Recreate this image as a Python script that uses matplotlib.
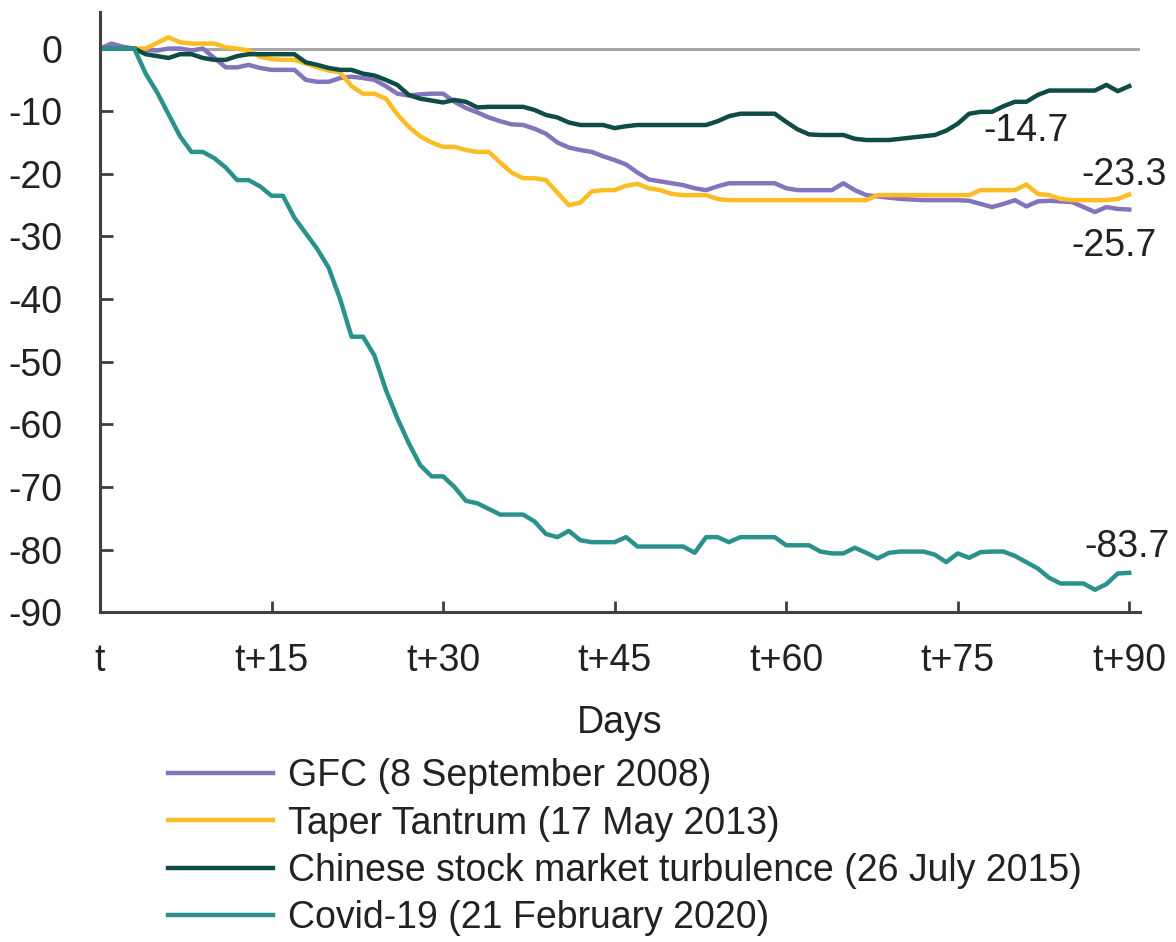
import numpy as np
import matplotlib
matplotlib.use("Agg")
import matplotlib.pyplot as plt

plt.rcParams['font.family'] = ['Liberation Sans', 'DejaVu Sans']

# days after event, t .. t+90
days = np.arange(0, 91)

# cumulative change
gfc = [0, 0.8, 0.3, 0, -0.2, -0.3, 0, 0, -0.3, 0,
       -1.5, -3, -3, -2.6, -3.1, -3.4, -3.4, -3.4, -5, -5.3,
       -5.3, -4.7, -4.5, -4.7, -5, -6, -7.2, -7.5, -7.3, -7.2,
       -7.2, -8.5, -9.5, -10.2, -11, -11.6, -12.1, -12.2, -12.8, -13.6,
       -15, -15.8, -16.2, -16.5, -17.2, -17.8, -18.5, -19.8, -20.9, -21.2,
       -21.5, -21.8, -22.3, -22.6, -22, -21.5, -21.5, -21.5, -21.5, -21.5,
       -22.3, -22.6, -22.6, -22.6, -22.6, -21.5, -22.6, -23.4, -23.6, -23.8,
       -24, -24.1, -24.2, -24.2, -24.2, -24.2, -24.3, -24.8, -25.3, -24.8,
       -24.2, -25.2, -24.4, -24.3, -24.4, -24.5, -25.3, -26.1, -25.3, -25.6,
       -25.7]
taper = [0, 0, 0, 0, 0, 0.9, 1.8, 1.0, 0.8, 0.8,
         0.8, 0.2, 0, -0.3, -1.3, -1.7, -1.8, -1.8, -2.4, -3,
         -3.5, -3.8, -6, -7.2, -7.2, -8, -10.5, -12.5, -14, -15,
         -15.7, -15.7, -16.2, -16.5, -16.5, -18.2, -19.8, -20.7, -20.7, -21,
         -23, -25, -24.6, -22.8, -22.6, -22.6, -21.9, -21.6, -22.3, -22.6,
         -23.2, -23.4, -23.4, -23.4, -24, -24.2, -24.2, -24.2, -24.2, -24.2,
         -24.2, -24.2, -24.2, -24.2, -24.2, -24.2, -24.2, -24.2, -23.4, -23.4,
         -23.4, -23.4, -23.4, -23.4, -23.4, -23.4, -23.4, -22.6, -22.6, -22.6,
         -22.6, -21.7, -23.2, -23.4, -24, -24.2, -24.2, -24.2, -24.2, -24,
         -23.3]
china = [0, 0, 0, 0, -0.9, -1.2, -1.5, -0.9, -0.9, -1.5,
         -1.8, -1.8, -1.2, -0.9, -0.9, -0.9, -0.9, -0.9, -2.2, -2.6,
         -3.1, -3.4, -3.4, -4, -4.3, -5, -5.8, -7.4, -8, -8.3,
         -8.6, -8.2, -8.5, -9.4, -9.3, -9.3, -9.3, -9.3, -9.8, -10.6,
         -11, -11.8, -12.2, -12.2, -12.2, -12.7, -12.4, -12.2, -12.2, -12.2,
         -12.2, -12.2, -12.2, -12.2, -11.6, -10.8, -10.4, -10.4, -10.4, -10.4,
         -11.7, -12.9, -13.7, -13.8, -13.8, -13.8, -14.4, -14.6, -14.6, -14.6,
         -14.4, -14.2, -14, -13.8, -13.1, -12, -10.4, -10.1, -10.1, -9.2,
         -8.5, -8.5, -7.4, -6.7, -6.7, -6.7, -6.7, -6.7, -5.8, -6.8,
         -6.0]
covid = [0, 0, 0, 0, -4, -7, -10.5, -14, -16.5, -16.5,
         -17.5, -19, -21, -21, -22, -23.5, -23.5, -27, -29.5, -32,
         -35, -40, -46, -46, -49, -54.5, -59, -63, -66.5, -68.3,
         -68.3, -70, -72.2, -72.6, -73.5, -74.4, -74.4, -74.4, -75.5, -77.5,
         -78, -77, -78.5, -78.8, -78.8, -78.8, -78, -79.5, -79.5, -79.5,
         -79.5, -79.5, -80.5, -78, -78, -78.8, -78, -78, -78, -78,
         -79.3, -79.3, -79.3, -80.3, -80.6, -80.6, -79.7, -80.5, -81.4, -80.5,
         -80.3, -80.3, -80.3, -80.8, -82, -80.6, -81.3, -80.4, -80.3, -80.3,
         -81, -82, -83, -84.5, -85.4, -85.4, -85.4, -86.4, -85.5, -83.8,
         -83.7]

labels = ["GFC (8 September 2008)",
          "Taper Tantrum (17 May 2013)",
          "Chinese stock market turbulence (26 July 2015)",
          "Covid-19 (21 February 2020)"]
colors = ["#8474bd", "#fbbc24", "#0e4c45", "#2a928a"]

xticks = [0, 15, 30, 45, 60, 75, 90]
xticklabels = ["t", "t+15", "t+30", "t+45", "t+60", "t+75", "t+90"]
yticks = list(range(0, -100, -10))

# end-value annotations: text, x, y
notes = [("-14.7", 84.7, -13.2), ("-23.3", 93.3, -20.2),
         ("-25.7", 92.4, -31.5), ("-83.7", 93.5, -79.5)]

fs = 27
txt = "#222222"

fig = plt.figure(figsize=(11.76, 9.42), dpi=100)
ax = fig.add_axes([0.085, 0.350, 0.884, 0.637])

ax.axhline(0, color="#a6a6a6", lw=2.2, zorder=1)
for series, lab, col in zip([gfc, taper, china, covid], labels, colors):
    ax.plot(days, series, color=col, lw=3.2, label=lab, zorder=2)

for s, x, y in notes:
    ax.text(x, y, s, ha="right", va="center", fontsize=fs, color=txt, clip_on=False)

ax.set_xlim(0, 90.9)
ax.set_ylim(-90, 5.8)
ax.set_xticks(xticks)
ax.set_xticklabels(xticklabels)
ax.set_yticks(yticks)
ax.set_yticklabels([str(v) for v in yticks])
ax.tick_params(axis="both", direction="in", labelsize=fs, labelcolor=txt,
               color="#404040", width=2)
ax.tick_params(axis="y", length=9, pad=27)
ax.tick_params(axis="x", length=8, pad=22)
for side in ["top", "right"]:
    ax.spines[side].set_visible(False)
for side in ["left", "bottom"]:
    ax.spines[side].set_color("#404040")
    ax.spines[side].set_linewidth(2.2)

ax.set_xlabel("Days", fontsize=fs, color=txt, labelpad=19)

fig.legend(loc="upper left", bbox_to_anchor=(0.143, 0.195), frameon=False,
           fontsize=fs, handlelength=2.8, handletextpad=0.4, labelspacing=0.3,
           borderpad=0, borderaxespad=0, labelcolor=txt)

fig.savefig("out.png", dpi=100)
